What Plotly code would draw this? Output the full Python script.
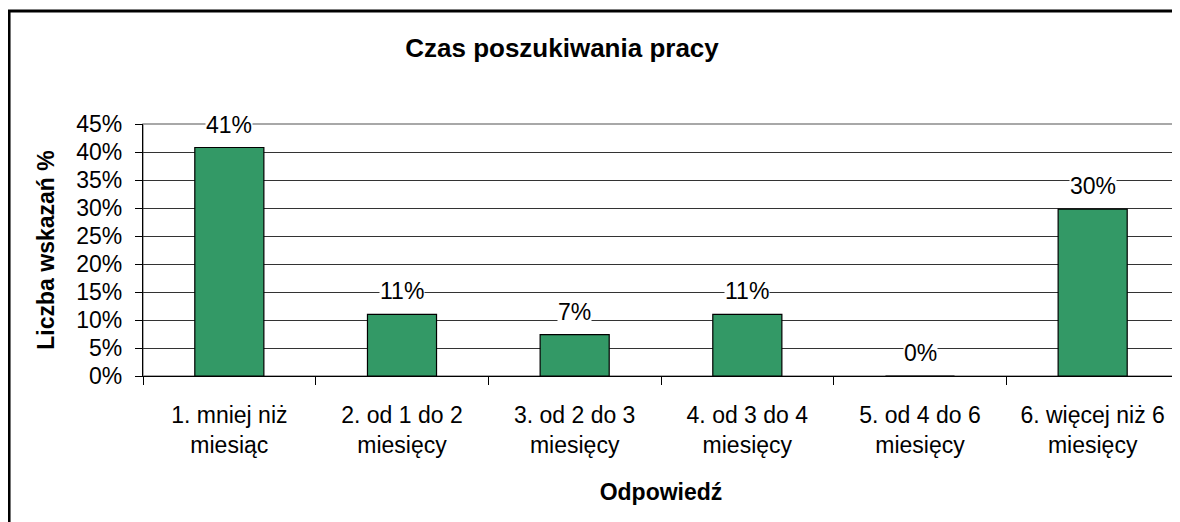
import plotly.graph_objects as go

categories = ["1. mniej niż<br>miesiąc", "2. od 1 do 2<br>miesięcy", "3. od 2 do 3<br>miesięcy",
              "4. od 3 do 4<br>miesięcy", "5. od 4 do 6<br>miesięcy", "6. więcej niż 6<br>miesięcy"]
values = [40.8, 11.0, 7.4, 11.0, 0.0, 29.8]
labels = ["41%", "11%", "7%", "11%", "0%", "30%"]
y_ticks = [0, 5, 10, 15, 20, 25, 30, 35, 40, 45]
y_ticktext = [f"{v}%" for v in y_ticks]

FONT = "Liberation Sans, Arial, sans-serif"

fig = go.Figure()
fig.add_trace(go.Bar(
    x=categories, y=values, width=0.4,
    marker=dict(color="#339966", line=dict(color="#000000", width=1.2)),
    hoverinfo="skip",
))

for c, v, t in zip(categories, values, labels):
    fig.add_annotation(x=c, y=v, text=t, showarrow=False, yanchor="middle", yshift=23,
                       bgcolor="white", font=dict(family=FONT, size=23, color="black"),
                       borderpad=0)

# plot area frame (gray top/right)
fig.add_shape(type="rect", xref="paper", yref="paper", x0=0, y0=0, x1=1, y1=1,
              line=dict(color="#8c8c8c", width=1.5), layer="below")
# chart outer border
fig.add_shape(type="rect", xref="paper", yref="paper", x0=-0.1293, y0=-1.0, x1=1.2, y1=1.448,
              line=dict(color="black", width=3), layer="below")

W, H = 1172, 514
fig.update_layout(
    width=W, height=H,
    margin=dict(l=135, r=1, t=116, b=146),
    paper_bgcolor="white", plot_bgcolor="white",
    showlegend=False,
    font=dict(family=FONT, size=23, color="black"),
    title=dict(text="<b>Czas poszukiwania pracy</b>", x=(562 - 8) / W, xanchor="center",
               xref="container", y=1 - 40 / H, yanchor="middle", yref="container",
               font=dict(family=FONT, size=26, color="black")),
    bargap=0.6,
)
fig.update_xaxes(
    type="category", showline=True, linecolor="#000000", linewidth=1.2,
    ticks="outside", tickson="boundaries", ticklen=8, tickcolor="#000000", tickwidth=1,
    tickfont=dict(family=FONT, size=23), showgrid=False, ticklabelstandoff=18,
    title=dict(text="<b>Odpowiedź</b>", font=dict(family=FONT, size=23), standoff=27),
)
fig.update_yaxes(
    range=[0, 45], tickvals=y_ticks, ticktext=y_ticktext,
    showline=True, linecolor="#000000", linewidth=1.2,
    ticks="outside", ticklen=7, tickcolor="#000000", tickwidth=1,
    showgrid=True, gridcolor="#333333", gridwidth=1, zeroline=False,
    tickfont=dict(family=FONT, size=23), ticklabelstandoff=8,
    title=dict(text="<b>Liczba wskazań %</b>", font=dict(family=FONT, size=23), standoff=15),
)

fig.write_html("out.html")
